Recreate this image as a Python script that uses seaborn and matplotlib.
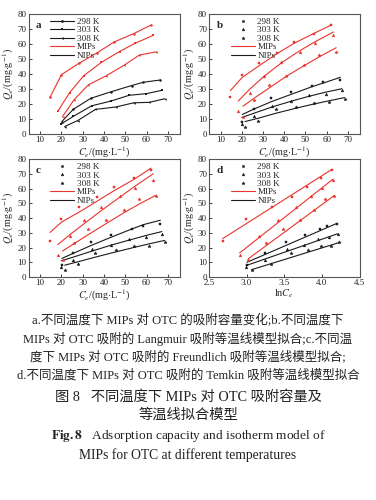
import numpy as np
import pandas as pd
import matplotlib
matplotlib.use("Agg")
import matplotlib.pyplot as plt
from matplotlib.lines import Line2D
import seaborn as sns

sns.set_theme(style="ticks")
plt.rcParams['font.family'] = ['Liberation Serif', 'Noto Sans CJK SC']
plt.rcParams['mathtext.fontset'] = 'stix'

temps = ["298 K", "303 K", "308 K"]

# Experimental data (Ce in mg/L, Qe in mg/g)
mip_ce = [[14.6, 20.0, 28.3, 36.5, 44.7, 53.9, 62.1],
          [18.3, 23.8, 30.5, 38.7, 47.3, 54.5, 63.2],
          [20.5, 25.9, 32.7, 41.0, 49.3, 56.6, 64.5]]
mip_qe = [[24.4, 39.6, 47.2, 53.9, 61.3, 66.9, 72.6],
          [15.2, 27.5, 38.9, 47.7, 55.0, 60.4, 65.8],
          [11.6, 22.8, 32.8, 38.8, 45.7, 52.6, 54.8]]
nip_ce = [[20.2, 25.5, 33.8, 43.4, 53.0, 58.5, 66.5],
          [20.0, 25.6, 34.2, 43.1, 51.8, 59.9, 67.2],
          [21.5, 27.7, 36.0, 45.5, 54.0, 61.3, 68.5]]
nip_qe = [[8.3, 16.4, 23.8, 28.2, 32.3, 34.5, 36.0],
          [6.8, 11.8, 18.8, 21.9, 25.8, 26.9, 29.1],
          [5.0, 9.0, 16.4, 18.0, 20.8, 21.1, 23.5]]

# Fitted curves (values at the same Ce points)
mip_lang = [[28.9, 37.5, 45.7, 53.5, 60.5, 67.0, 72.6],
            [22.0, 30.0, 38.5, 47.5, 55.5, 61.5, 68.0],
            [18.5, 24.0, 30.5, 38.5, 45.5, 51.5, 57.5]]
nip_lang = [[13.0, 16.5, 21.5, 26.5, 31.5, 34.0, 37.8],
            [11.0, 13.8, 18.0, 21.8, 25.2, 28.0, 30.2],
            [8.3, 10.5, 13.8, 17.2, 20.0, 22.2, 24.3]]
mip_freu = [[30.2, 37.2, 44.0, 51.2, 58.5, 66.0, 73.8],
            [22.0, 28.5, 36.0, 45.0, 54.0, 61.5, 70.0],
            [17.6, 22.6, 28.8, 36.2, 43.5, 49.5, 55.5]]
nip_freu = [[12.6, 16.0, 21.3, 27.0, 32.5, 35.5, 38.5],
            [11.0, 13.5, 17.5, 21.5, 25.0, 28.2, 30.8],
            [8.0, 10.3, 13.5, 17.0, 20.0, 22.5, 24.8]]
# Temkin straight lines: Qe at first and last lnCe
mip_temk = [[26.0, 72.8], [16.3, 66.3], [12.3, 55.3]]
nip_temk = [[10.0, 36.3], [7.8, 29.3], [5.0, 23.3]]

RED = "#e8342c"
BLACK = "#1a1a1a"
line_markers = ["o", "s", "<"]
sc_markers = ["s", "^", "*"]
sc_sizes = [2.0, 4.0, 6.0]

W, H = 376, 500
fig = plt.figure(figsize=(W / 100, H / 100), dpi=100)

def axes_px(l, t, r, b):
    return fig.add_axes([l / W, 1 - b / H, (r - l) / W, (b - t) / H])

ax_a = axes_px(28.5, 14, 179.5, 134)
ax_b = axes_px(209, 14, 359.5, 134)
ax_c = axes_px(28.5, 159, 179.5, 277)
ax_d = axes_px(209, 159, 359.5, 277)

tick_fs = 6.5

def style(ax, letter, xlab, lnx=False):
    ax.set_ylim(0, 80)
    ax.set_yticks(range(0, 81, 10))
    if lnx:
        ax.set_xlim(2.5, 4.5)
        ax.set_xticks([2.5, 3.0, 3.5, 4.0, 4.5])
    else:
        ax.set_xlim(4.5, 75.5)
        ax.set_xticks(range(10, 71, 10))
    ax.tick_params(direction="in", length=2, width=0.6, labelsize=tick_fs, pad=1.5,
                   colors="#222222")
    for s in ax.spines.values():
        s.set_linewidth(0.8)
        s.set_color("#555555")
    ax.set_ylabel(r"$Q_e$/(mg$\cdot$g$^{-1}$)", fontsize=7.3, labelpad=1)
    ax.set_xlabel(xlab, fontsize=7.3, labelpad=0.5)
    ax.text(0.05, 0.9, letter, transform=ax.transAxes, fontsize=8,
            fontweight="bold", va="center", ha="left")

# Panel a: experimental data with lines
for i in range(3):
    sns.lineplot(x=mip_ce[i], y=mip_qe[i], ax=ax_a, color=RED, lw=0.8,
                 marker=line_markers[i], markersize=1.8, markeredgewidth=0,
                 sort=False, estimator=None)
    sns.lineplot(x=nip_ce[i], y=nip_qe[i], ax=ax_a, color=BLACK, lw=0.8,
                 marker=line_markers[i], markersize=1.8, markeredgewidth=0,
                 sort=False, estimator=None)

def scatter_fit(ax, fits_m, fits_n, lnx=False):
    for i in range(3):
        xm = np.log(mip_ce[i]) if lnx else np.array(mip_ce[i])
        xn = np.log(nip_ce[i]) if lnx else np.array(nip_ce[i])
        sns.scatterplot(x=xm, y=mip_qe[i], ax=ax, color=RED, marker=sc_markers[i],
                        s=sc_sizes[i], linewidth=0.3, edgecolor=RED, zorder=3)
        sns.scatterplot(x=xn, y=nip_qe[i], ax=ax, color=BLACK, marker=sc_markers[i],
                        s=sc_sizes[i], linewidth=0.3, edgecolor=BLACK, zorder=3)
        if lnx:
            fxm = [xm[0], xm[-1]]
            fxn = [xn[0], xn[-1]]
        else:
            fxm, fxn = xm, xn
        sns.lineplot(x=fxm, y=fits_m[i], ax=ax, color=RED, lw=0.8, sort=False,
                     estimator=None)
        sns.lineplot(x=fxn, y=fits_n[i], ax=ax, color=BLACK, lw=0.8, sort=False,
                     estimator=None)

scatter_fit(ax_b, mip_lang, nip_lang)
scatter_fit(ax_c, mip_freu, nip_freu)
scatter_fit(ax_d, mip_temk, nip_temk, lnx=True)

ce_lab = r"$C_e$/(mg$\cdot$L$^{-1}$)"
style(ax_a, "a", ce_lab)
style(ax_b, "b", ce_lab)
style(ax_c, "c", ce_lab)
style(ax_d, "d", r"ln$C_e$", lnx=True)

# Legends
leg_a = [Line2D([], [], color=BLACK, lw=0.8, marker=m, markersize=2, markeredgewidth=0)
         for m in line_markers]
leg_a += [Line2D([], [], color=RED, lw=0.8), Line2D([], [], color=BLACK, lw=0.8)]
leg_s = [Line2D([], [], color=BLACK, lw=0, marker=m, markersize=np.sqrt(sz),
                markeredgewidth=0.3)
         for m, sz in zip(sc_markers, sc_sizes)]
leg_s += [Line2D([], [], color=RED, lw=0.8), Line2D([], [], color=BLACK, lw=0.8)]
labels = temps + ["MIPs", "NIPs"]
for ax, h in [(ax_a, leg_a), (ax_b, leg_s), (ax_c, leg_s), (ax_d, leg_s)]:
    ax.legend(h, labels, loc="upper left", bbox_to_anchor=(0.12, 1.0), frameon=False,
              fontsize=6.6, handlelength=2.6, handletextpad=0.3, labelspacing=0.0,
              borderaxespad=0.2, borderpad=0.2)

# Caption
cap_fam = ['Liberation Serif', 'Noto Sans CJK SC']
cap_lines = [
    ("a.不同温度下 MIPs 对 OTC 的吸附容量变化;b.不同温度下", 320),
    ("MIPs 对 OTC 吸附的 Langmuir 吸附等温线模型拟合;c.不同温", 338.5),
    ("度下 MIPs 对 OTC 吸附的 Freundlich 吸附等温线模型拟合;", 357),
    ("d.不同温度下 MIPs 对 OTC 吸附的 Temkin 吸附等温线模型拟合", 375),
]
for txt, y in cap_lines:
    fig.text(0.5, 1 - y / H, txt, ha="center", va="center", fontsize=9.0,
             family=cap_fam, color="#222222")
fig.text(0.5, 1 - 397 / H, "图 8   不同温度下 MIPs 对 OTC 吸附容量及", ha="center",
         va="center", fontsize=10.3, family=cap_fam, color="#222222")
fig.text(0.5, 1 - 415.5 / H, "等温线拟合模型", ha="center", va="center", fontsize=10.3,
         family=cap_fam, color="#222222")
fig.text(0.5, 1 - 436 / H, r"$\mathbf{Fig.8}$   Adsorption capacity and isotherm model of",
         ha="center", va="center", fontsize=9.6, family=cap_fam, color="#222222")
fig.text(0.5, 1 - 455 / H, "MIPs for OTC at different temperatures", ha="center",
         va="center", fontsize=9.8, family=cap_fam, color="#222222")

fig.savefig("out.png", dpi=100)
